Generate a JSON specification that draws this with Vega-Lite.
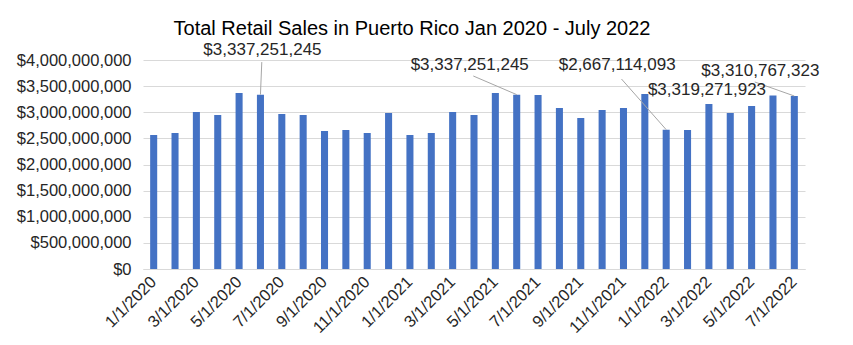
{
  "$schema": "https://vega.github.io/schema/vega-lite/v6.json",
  "autosize": {"type": "none"},
  "width": 662,
  "height": 209,
  "padding": {"left": 143, "top": 60, "right": 48, "bottom": 76},
  "background": "white",
  "title": {
    "text": "Total Retail Sales in Puerto Rico Jan 2020 - July 2022",
    "font": "Liberation Sans",
    "fontSize": 20,
    "fontWeight": "normal",
    "color": "#000000",
    "anchor": "middle",
    "frame": "group",
    "baseline": "alphabetic",
    "dx": -62,
    "dy": 32,
    "offset": 18
  },
  "config": {
    "view": {"stroke": null},
    "font": "Liberation Sans"
  },
  "data": {
    "values": [
      {"date": "1/1/2020", "sales": 2565000000},
      {"date": "2/1/2020", "sales": 2603000000},
      {"date": "3/1/2020", "sales": 3005000000},
      {"date": "4/1/2020", "sales": 2947000000},
      {"date": "5/1/2020", "sales": 3368000000},
      {"date": "6/1/2020", "sales": 3337251245},
      {"date": "7/1/2020", "sales": 2967000000},
      {"date": "8/1/2020", "sales": 2947000000},
      {"date": "9/1/2020", "sales": 2641000000},
      {"date": "10/1/2020", "sales": 2660000000},
      {"date": "11/1/2020", "sales": 2603000000},
      {"date": "12/1/2020", "sales": 2986000000},
      {"date": "1/1/2021", "sales": 2565000000},
      {"date": "2/1/2021", "sales": 2603000000},
      {"date": "3/1/2021", "sales": 3005000000},
      {"date": "4/1/2021", "sales": 2947000000},
      {"date": "5/1/2021", "sales": 3368000000},
      {"date": "6/1/2021", "sales": 3337251245},
      {"date": "7/1/2021", "sales": 3330000000},
      {"date": "8/1/2021", "sales": 3081000000},
      {"date": "9/1/2021", "sales": 2890000000},
      {"date": "10/1/2021", "sales": 3043000000},
      {"date": "11/1/2021", "sales": 3081000000},
      {"date": "12/1/2021", "sales": 3349000000},
      {"date": "1/1/2022", "sales": 2667114093},
      {"date": "2/1/2022", "sales": 2660000000},
      {"date": "3/1/2022", "sales": 3158000000},
      {"date": "4/1/2022", "sales": 2986000000},
      {"date": "5/1/2022", "sales": 3120000000},
      {"date": "6/1/2022", "sales": 3319271923},
      {"date": "7/1/2022", "sales": 3310767323}
    ]
  },
  "encoding": {
    "x": {
      "field": "date",
      "type": "nominal",
      "sort": null,
      "scale": {"paddingInner": 0.67, "paddingOuter": 0.335},
      "axis": {
        "title": null,
        "values": ["1/1/2020", "3/1/2020", "5/1/2020", "7/1/2020", "9/1/2020", "11/1/2020", "1/1/2021", "3/1/2021", "5/1/2021", "7/1/2021", "9/1/2021", "11/1/2021", "1/1/2022", "3/1/2022", "5/1/2022", "7/1/2022"],
        "labelAngle": -45,
        "labelAlign": "right",
        "labelBaseline": "middle",
        "labelFontSize": 16.5,
        "labelFont": "Liberation Sans",
        "labelColor": "#262626",
        "labelPadding": 10,
        "ticks": false,
        "domainColor": "#D9D9D9",
        "domainWidth": 1,
        "grid": false
      }
    },
    "y": {
      "field": "sales",
      "type": "quantitative",
      "scale": {"domain": [0, 4000000000], "nice": false},
      "axis": {
        "title": null,
        "values": [0, 500000000, 1000000000, 1500000000, 2000000000, 2500000000, 3000000000, 3500000000, 4000000000],
        "format": "$,.0f",
        "labelFontSize": 16.5,
        "labelFont": "Liberation Sans",
        "labelColor": "#262626",
        "labelPadding": 12,
        "ticks": false,
        "domain": false,
        "gridColor": "#D9D9D9",
        "gridWidth": 1
      }
    }
  },
  "layer": [
    {"mark": {"type": "bar", "color": "#4472C4"}},
    {
      "transform": [{"filter": "datum.date == '6/1/2020'"}],
      "mark": {"type": "rule", "color": "#A6A6A6", "strokeWidth": 1},
      "encoding": {
        "x2": {"datum": "6/1/2020", "bandPosition": 0.69},
        "y2": {"datum": 3960000000}
      }
    },
    {
      "transform": [{"filter": "datum.date == '6/1/2021'"}],
      "mark": {"type": "rule", "color": "#A6A6A6", "strokeWidth": 1},
      "encoding": {
        "x2": {"datum": "4/1/2021", "bandPosition": 0.4},
        "y2": {"datum": 3694000000}
      }
    },
    {
      "transform": [{"filter": "datum.date == '1/1/2022'"}],
      "mark": {"type": "rule", "color": "#A6A6A6", "strokeWidth": 1},
      "encoding": {
        "x2": {"datum": "11/1/2021", "bandPosition": 0.22},
        "y2": {"datum": 3636000000}
      }
    },
    {
      "transform": [{"filter": "datum.date == '7/1/2022'"}],
      "mark": {"type": "rule", "color": "#A6A6A6", "strokeWidth": 1},
      "encoding": {
        "x2": {"datum": "5/1/2022", "bandPosition": 0.95},
        "y2": {"datum": 3579000000}
      }
    },
    {
      "transform": [{"filter": "datum.date == '6/1/2020'"}],
      "mark": {"type": "text", "font": "Liberation Sans", "fontSize": 17, "color": "#262626", "baseline": "middle", "align": "center", "dx": 2, "dy": -45},
      "encoding": {"text": {"field": "sales", "type": "quantitative", "format": "$,.0f"}}
    },
    {
      "transform": [{"filter": "datum.date == '6/1/2021'"}],
      "mark": {"type": "text", "font": "Liberation Sans", "fontSize": 17, "color": "#262626", "baseline": "middle", "align": "center", "dx": -47, "dy": -30},
      "encoding": {"text": {"field": "sales", "type": "quantitative", "format": "$,.0f"}}
    },
    {
      "transform": [{"filter": "datum.date == '1/1/2022'"}],
      "mark": {"type": "text", "font": "Liberation Sans", "fontSize": 17, "color": "#262626", "baseline": "middle", "align": "center", "dx": -49, "dy": -65},
      "encoding": {"text": {"field": "sales", "type": "quantitative", "format": "$,.0f"}}
    },
    {
      "transform": [{"filter": "datum.date == '6/1/2022'"}],
      "mark": {"type": "text", "font": "Liberation Sans", "fontSize": 17, "color": "#262626", "baseline": "middle", "align": "center", "dx": -66, "dy": -6},
      "encoding": {"text": {"field": "sales", "type": "quantitative", "format": "$,.0f"}}
    },
    {
      "transform": [{"filter": "datum.date == '7/1/2022'"}],
      "mark": {"type": "text", "font": "Liberation Sans", "fontSize": 17, "color": "#262626", "baseline": "middle", "align": "center", "dx": -34, "dy": -25},
      "encoding": {"text": {"field": "sales", "type": "quantitative", "format": "$,.0f"}}
    }
  ]
}
